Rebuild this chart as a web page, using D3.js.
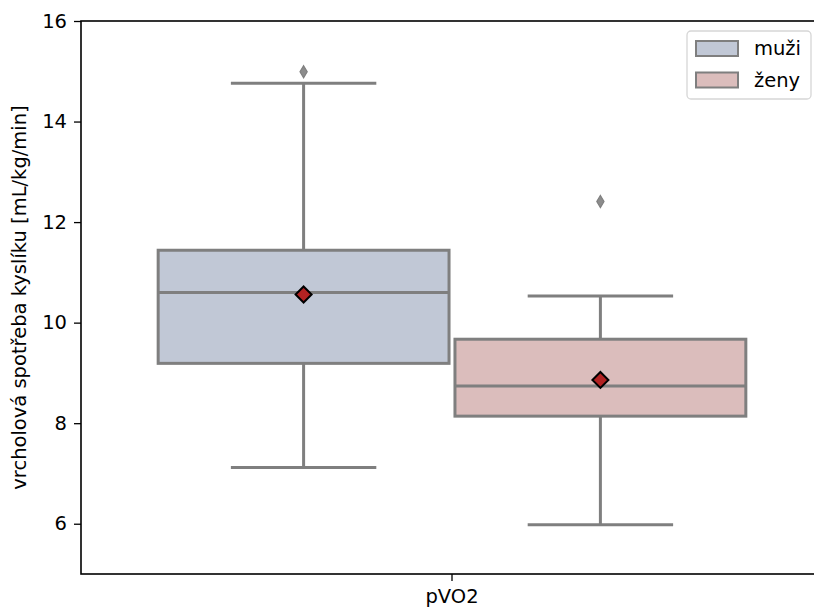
<!DOCTYPE html>
<html>
<head>
<meta charset="utf-8">
<script src="https://cdn.jsdelivr.net/npm/d3@7"></script>
<style>
  body { margin: 0; background: #fff; }
  svg { display: block; font-family: "DejaVu Sans", sans-serif; }
</style>
</head>
<body>
<svg id="chart" width="814" height="609"></svg>
<script>
// data
var categories = ["pVO2"];
var groups = ["muži", "ženy"];
var groupColors = ["#c1c8d6", "#dbbdbc"];
var q1 = [9.19, 8.14];
var median = [10.60, 8.74];
var q3 = [11.44, 9.67];
var whiskerLow = [7.12, 5.98];
var whiskerHigh = [14.76, 10.53];
var means = [10.56, 8.86];
var outliers = [[14.99], [12.41]];
var yTicks = [6, 8, 10, 12, 14, 16];

var svg = d3.select("#chart");
// plot area edges (right spine falls just outside the window, like the reference)
var plotL = 81, plotR = 823, plotT = 21, plotB = 574;
var lineGrey = "#7f7f7f";
var fontSize = 19.5;

var x = d3.scaleBand().domain(categories).range([plotL, plotR]).padding(0);
var hue = d3.scaleBand().domain(groups).range([0.1, 0.9]).padding(0);
var y = d3.scaleLinear().domain([5, 16]).range([plotB, plotT]);

var boxes = groups.map(function(g, i){
    return {group: g, i: i, cat: categories[0]};
});

function cx(d){
    return x(d.cat) + (hue(d.group) + hue.bandwidth() / 2) * x.bandwidth();
}
var boxW = hue.bandwidth() * 0.98 * x.bandwidth();
var capW = boxW / 2;

var g = svg.append("g");

// whiskers
g.selectAll(".whisk").data(boxes).enter().append("line")
    .attr("x1", cx).attr("x2", cx)
    .attr("y1", function(d){ return y(whiskerHigh[d.i]); })
    .attr("y2", function(d){ return y(whiskerLow[d.i]); })
    .attr("stroke", lineGrey).attr("stroke-width", 3);
// caps
[whiskerLow, whiskerHigh].forEach(function(arr){
    g.selectAll(null).data(boxes).enter().append("line")
        .attr("x1", function(d){ return cx(d) - capW / 2; })
        .attr("x2", function(d){ return cx(d) + capW / 2; })
        .attr("y1", function(d){ return y(arr[d.i]); })
        .attr("y2", function(d){ return y(arr[d.i]); })
        .attr("stroke", lineGrey).attr("stroke-width", 3);
});
// boxes
g.selectAll(".box").data(boxes).enter().append("rect")
    .attr("x", function(d){ return cx(d) - boxW / 2; })
    .attr("width", boxW)
    .attr("y", function(d){ return y(q3[d.i]); })
    .attr("height", function(d){ return y(q1[d.i]) - y(q3[d.i]); })
    .attr("fill", function(d){ return groupColors[d.i]; })
    .attr("stroke", lineGrey).attr("stroke-width", 3);
// medians
g.selectAll(".med").data(boxes).enter().append("line")
    .attr("x1", function(d){ return cx(d) - boxW / 2; })
    .attr("x2", function(d){ return cx(d) + boxW / 2; })
    .attr("y1", function(d){ return y(median[d.i]); })
    .attr("y2", function(d){ return y(median[d.i]); })
    .attr("stroke", lineGrey).attr("stroke-width", 3);
// outliers (thin diamonds)
boxes.forEach(function(d){
    outliers[d.i].forEach(function(v){
        var px = cx(d), py = y(v);
        g.append("path")
            .attr("d", "M" + px + "," + (py - 6) + "L" + (px + 3.6) + "," + py + "L" + px + "," + (py + 6) + "L" + (px - 3.6) + "," + py + "Z")
            .attr("fill", "#8c8c8c").attr("stroke", "#7f7f7f").attr("stroke-width", 1.2);
    });
});
// means
g.selectAll(".mean").data(boxes).enter().append("path")
    .attr("d", function(d){
        var px = cx(d), py = y(means[d.i]), r = 8;
        return "M" + px + "," + (py - r) + "L" + (px + r) + "," + py + "L" + px + "," + (py + r) + "L" + (px - r) + "," + py + "Z";
    })
    .attr("fill", "#b22222").attr("stroke", "#000").attr("stroke-width", 2);

// axes
var yAxis = d3.axisLeft(y).tickValues(yTicks).tickSize(7).tickPadding(7);
var ya = svg.append("g").attr("transform", "translate(" + plotL + ",0)").call(yAxis);
ya.select(".domain").remove();
ya.selectAll("line").attr("stroke", "#000").attr("stroke-width", 1.3);
ya.selectAll("text").attr("font-size", fontSize).attr("fill", "#000")
    .attr("font-family", "DejaVu Sans, sans-serif");

var xAxis = d3.axisBottom(x).tickSize(7).tickPadding(8);
var xa = svg.append("g").attr("transform", "translate(0," + plotB + ")").call(xAxis);
xa.select(".domain").remove();
xa.selectAll("line").attr("stroke", "#000").attr("stroke-width", 1.3);
xa.selectAll("text").attr("font-size", fontSize).attr("fill", "#000")
    .attr("font-family", "DejaVu Sans, sans-serif");

// spines
svg.append("rect").attr("x", plotL).attr("y", plotT)
    .attr("width", plotR - plotL).attr("height", plotB - plotT)
    .attr("fill", "none").attr("stroke", "#000").attr("stroke-width", 1.6);

svg.append("text")
    .attr("transform", "translate(19," + ((plotT + plotB) / 2) + ") rotate(-90)")
    .attr("text-anchor", "middle").attr("dy", "0.35em")
    .attr("font-size", fontSize)
    .text("vrcholová spotřeba kyslíku [mL/kg/min]");

// legend
var lg = svg.append("g");
lg.append("rect").attr("x", 687).attr("y", 31).attr("width", 124).attr("height", 68)
    .attr("rx", 4).attr("fill", "#fff").attr("fill-opacity", 0.8)
    .attr("stroke", "#d6d6d6").attr("stroke-width", 1.3);
groups.forEach(function(name, i){
    lg.append("rect").attr("x", 696).attr("y", 41 + i * 31.5)
        .attr("width", 42).attr("height", 15)
        .attr("fill", groupColors[i]).attr("stroke", lineGrey).attr("stroke-width", 2);
    lg.append("text").attr("x", 754).attr("y", 48.5 + i * 31.5).attr("dy", "0.35em")
        .attr("font-size", fontSize).text(name);
});
</script>
</body>
</html>
